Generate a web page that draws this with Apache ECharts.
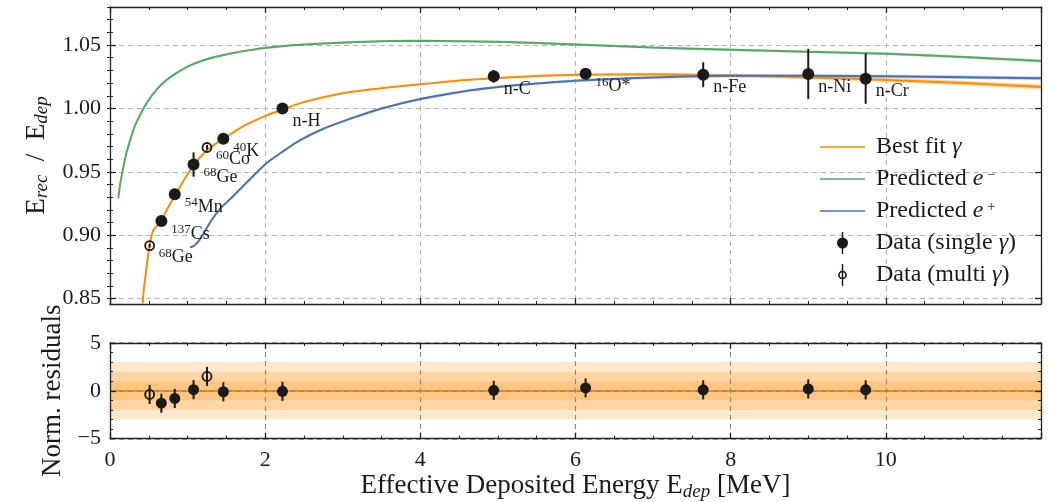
<!DOCTYPE html>
<html><head><meta charset="utf-8">
<script src="https://cdn.jsdelivr.net/npm/echarts@6/dist/echarts.min.js"></script>
<style>html,body{margin:0;padding:0;background:#fff}#c{width:1049px;height:502px}</style>
</head><body><div id="c"></div>
<script>
// ---------- data ----------
const fitE     = [0.42,0.44,0.47,0.50,0.53,0.56,0.60,0.662,0.75,0.835,0.95,1.077,1.25,1.46,1.75,2.0,2.22,2.5,3.0,3.5,4.0,4.5,5.0,5.5,6.0,7.0,8.0,9.0,10.0,11.0,12.0];
const fitRatio = [0.846,0.859,0.874,0.888,0.898,0.904,0.907,0.912,0.922,0.931,0.943,0.955,0.967,0.976,0.987,0.994,0.999,1.005,1.012,1.016,1.019,1.022,1.024,1.0255,1.0265,1.027,1.026,1.0245,1.0225,1.020,1.017];
const fitBand  = [0.0005,0.0005,0.0005,0.0005,0.0005,0.0005,0.0005,0.0005,0.0005,0.0005,0.0005,0.0005,0.0005,0.0005,0.0005,0.0005,0.0005,0.0005,0.0005,0.0005,0.0006,0.0006,0.0007,0.0008,0.0009,0.001,0.0012,0.0014,0.0016,0.0018,0.002];

const elecE     = [0.107,0.13,0.16,0.20,0.26,0.32,0.39,0.48,0.60,0.72,0.86,1.0,1.16,1.35,1.59,1.8,2.0,2.4,2.88,3.5,4.0,4.5,5.0,6.0,7.0,8.0,9.0,10.0,11.0,12.0];
const elecRatio = [0.929,0.940,0.950,0.962,0.975,0.986,0.995,1.005,1.0148,1.022,1.028,1.033,1.037,1.0405,1.0438,1.046,1.0477,1.050,1.0517,1.053,1.0533,1.053,1.0525,1.0505,1.048,1.0462,1.0447,1.0432,1.0405,1.0375];
const elecBand  = [0.0008,0.0008,0.0008,0.0008,0.0008,0.0008,0.0008,0.0008,0.0008,0.0008,0.0008,0.0008,0.0008,0.0008,0.0008,0.0008,0.0008,0.0008,0.0008,0.0008,0.0008,0.0008,0.0008,0.0009,0.0009,0.001,0.001,0.0011,0.0011,0.0012];

const posE     = [1.03,1.08,1.15,1.22,1.30,1.42,1.59,1.80,2.02,2.25,2.45,2.75,3.1,3.5,4.0,4.63,5.0,5.5,6.0,7.0,8.0,9.0,10.0,11.0,12.0];
const posRatio = [0.8905,0.8915,0.896,0.903,0.911,0.921,0.931,0.944,0.957,0.967,0.975,0.984,0.992,1.000,1.0075,1.0142,1.017,1.0197,1.0219,1.0245,1.0257,1.0258,1.0253,1.0246,1.0238];
const posBand  = [0.0008,0.0008,0.0008,0.0008,0.0008,0.0008,0.0008,0.0008,0.0008,0.0008,0.0008,0.0008,0.0009,0.0009,0.001,0.001,0.001,0.001,0.0011,0.0011,0.0012,0.0012,0.0013,0.0013,0.0014];

const singleNames    = ['137Cs','54Mn','68Ge','40K','n-H','n-C','16O*','n-Fe','n-Ni','n-Cr'];
const singleE        = [0.662,0.835,1.077,1.461,2.223,4.946,6.13,7.646,9.0,9.74];
const singleRatio    = [0.9113,0.9324,0.9558,0.9762,1.0000,1.0253,1.0274,1.0266,1.0272,1.0235];
const singleErr      = [0.0015,0.0015,0.0096,0.0015,0.001,0.005,0.002,0.0098,0.0198,0.0198];
const singleResid    = [-1.3,-0.8,0.12,-0.1,-0.05,0.05,0.3,0.1,0.2,0.1];
const singleResidErr = [1,1,1,1,1,1,1,1,1,1];

const multiNames    = ['68Ge','60Co'];
const multiE        = [0.511,1.25];
const multiRatio    = [0.8918,0.9692];
const multiErr      = [0.0015,0.002];
const multiResid    = [-0.38,1.5];
const multiResidErr = [1,1];

const ratioMajorTicks = [0.85,0.90,0.95,1.00,1.05];
const ratioMinorTicks = [0.85,0.86,0.87,0.88,0.89,0.90,0.91,0.92,0.93,0.94,0.95,0.96,0.97,0.98,0.99,1.00,1.01,1.02,1.03,1.04,1.05,1.06,1.07,1.08];
const sigmaLevels = [3,2,1];

// ---------- styling ----------
const FONT = '"Liberation Serif","DejaVu Serif",serif';
const INK = '#1a1a1a';
const ORANGE = '#ff8c00', GREEN = '#55a868', BLUE = '#4c72b0';
const FRAME = {color:'#222', width:1.3};

const pairs = (xs, ys) => xs.map((x,i)=>[x, ys[i]]);
const triples = (xs, ys, es) => xs.map((x,i)=>[x, ys[i], es[i]]);

function bandSeries(xs, ys, hw, color){
  return {type:'custom', xAxisIndex:0, yAxisIndex:0, silent:true, z:2, clip:true,
    encode:{x:0,y:1}, data:pairs(xs, ys),
    renderItem(params, api){
      if (params.dataIndex !== 0) return null;
      const pts = [];
      for (let i=0;i<xs.length;i++) pts.push(api.coord([xs[i], ys[i]+hw[i]]));
      for (let i=xs.length-1;i>=0;i--) pts.push(api.coord([xs[i], ys[i]-hw[i]]));
      return {type:'polygon', shape:{points:pts}, style:{fill:color}};
    }};
}

function errSeries(data, xi, yi, z){
  return {type:'custom', xAxisIndex:xi, yAxisIndex:yi, silent:true, z:z, clip:false,
    encode:{x:0,y:1}, data:data,
    renderItem(params, api){
      const x = api.value(0), y = api.value(1), e = api.value(2);
      const a = api.coord([x, y-e]), b = api.coord([x, y+e]);
      return {type:'line', shape:{x1:a[0],y1:a[1],x2:b[0],y2:b[1]}, style:{stroke:INK, lineWidth:2}};
    }};
}

const labelRich = {
  sup:{fontFamily:FONT, fontSize:13, lineHeight:12, verticalAlign:'top', color:INK},
  el:{fontFamily:FONT, fontSize:18, lineHeight:22, color:INK}
};
function isoText(name){
  const m = name.match(/^(\d+)(.*)$/);
  return m ? '{sup|'+m[1]+'}{el|'+m[2]+'}' : '{el|'+name+'}';
}

const legendText = {
  'Best fit γ':'{m|Best fit }{it|γ}',
  'Predicted e-':'{m|Predicted }{it|e}{sup| −}',
  'Predicted e+':'{m|Predicted }{it|e}{sup| +}',
  'Data (single γ)':'{m|Data (single }{it|γ}{m|)}',
  'Data (multi γ)':'{m|Data (multi }{it|γ}{m|)}'
};
const ICON_LINE = 'path://M0,0 L45,0 L45,1.6 L0,1.6 Z';
const ICON_FILLED = 'path://M5.2,0 L6.8,0 L6.8,24 L5.2,24 Z M0,12 A6,6 0 1 1 12,12 A6,6 0 1 1 0,12 Z';
const ICON_OPEN = 'path://M5.2,0 L6.8,0 L6.8,24 L5.2,24 Z M1.2,12 A4.8,4.8 0 1 1 10.8,12 A4.8,4.8 0 1 1 1.2,12 Z M3.0,12 A3.0,3.0 0 1 0 9.0,12 A3.0,3.0 0 1 0 3.0,12 Z';

const nameRich = {
  m:{fontFamily:FONT, fontSize:27, lineHeight:30, color:INK},
  s:{fontFamily:FONT, fontSize:19, fontStyle:'italic', lineHeight:22, verticalAlign:'bottom', color:INK}
};

function xAx(grid, pos, withLabels, split, extra){
  return Object.assign({
    gridIndex:grid, type:'value', min:0, max:12, interval:2, position:pos,
    axisLine:{show:true, onZero:false, lineStyle:FRAME},
    axisTick:{show:true, inside:true, length:6, lineStyle:FRAME},
    minorTick:{show:true, splitNumber:4, length:3, lineStyle:{color:'#222', width:1}},
    axisLabel:{show:withLabels, showMaxLabel:false, fontFamily:FONT, fontSize:22, color:INK, margin:11},
    splitLine:{show:split, lineStyle:{type:[5,4], color:'#b4b4b4', width:1.1}},
    minorSplitLine:{show:false}
  }, extra||{});
}

const option = {
  backgroundColor:'#fff',
  animation:false,
  grid:[
    {left:110, right:8, top:7, height:297},
    {left:110, right:8, top:343, height:99}
  ],
  xAxis:[
    xAx(0,'bottom',false,true),
    xAx(0,'top',false,false),
    xAx(1,'bottom',true,true,{z:6, splitLine:{show:true, lineStyle:{type:[5,4], color:'#8a8a8a', width:1.1}},
       name:'{m|Effective Deposited Energy E}{s|dep}{m| [MeV]}', nameLocation:'middle', nameGap:30,
       nameTextStyle:{rich:nameRich}}),
    xAx(1,'top',false,false,{z:6})
  ],
  yAxis:[
    {gridIndex:0, type:'value', min:0.8458, max:1.08, position:'left',
     axisLine:{show:true, onZero:false, lineStyle:FRAME},
     axisTick:{show:true, inside:true, length:6, customValues:ratioMajorTicks, lineStyle:FRAME},
     axisLabel:{show:true, customValues:ratioMajorTicks, formatter:v=>Number(v).toFixed(2), fontFamily:FONT, fontSize:22, color:INK, margin:9},
     splitLine:{show:true, lineStyle:{type:[5,4], color:'#b4b4b4', width:1.1}},
     name:'{m|E}{s|rec}{m|  /  E}{s|dep}', nameLocation:'middle', nameGap:46, nameTextStyle:{rich:nameRich}},
    {gridIndex:0, type:'value', min:0.8458, max:1.08, position:'left',
     axisLine:{show:false}, axisLabel:{show:false}, splitLine:{show:false},
     axisTick:{show:true, inside:true, length:3, customValues:ratioMinorTicks, lineStyle:{color:'#222', width:1}}},
    {gridIndex:0, type:'value', min:0.8458, max:1.08, position:'right',
     axisLine:{show:true, onZero:false, lineStyle:FRAME}, axisLabel:{show:false}, splitLine:{show:false},
     axisTick:{show:true, inside:true, length:6, customValues:ratioMajorTicks, lineStyle:FRAME}},
    {gridIndex:0, type:'value', min:0.8458, max:1.08, position:'right',
     axisLine:{show:false}, axisLabel:{show:false}, splitLine:{show:false},
     axisTick:{show:true, inside:true, length:3, customValues:ratioMinorTicks, lineStyle:{color:'#222', width:1}}},
    {gridIndex:1, type:'value', min:-5, max:5, interval:5, position:'left', z:6,
     axisLine:{show:true, onZero:false, lineStyle:FRAME},
     axisTick:{show:true, inside:true, length:6, lineStyle:FRAME},
     minorTick:{show:true, splitNumber:5, length:3, lineStyle:{color:'#222', width:1}},
     axisLabel:{show:true, formatter:v=> v<0 ? '\u2212'+Math.abs(v) : String(v), fontFamily:FONT, fontSize:22, color:INK, margin:9},
     splitLine:{show:true, lineStyle:{type:[5,4], color:'#8a8a8a', width:1.6}},
     name:'{m|Norm. residuals}', nameLocation:'middle', nameGap:41, nameTextStyle:{rich:nameRich}},
    {gridIndex:1, type:'value', min:-5, max:5, interval:5, position:'right', z:6,
     axisLine:{show:true, onZero:false, lineStyle:FRAME},
     axisTick:{show:true, inside:true, length:6, lineStyle:FRAME},
     minorTick:{show:true, splitNumber:5, length:3, lineStyle:{color:'#222', width:1}},
     axisLabel:{show:false}, splitLine:{show:false}}
  ],
  legend:{
    orient:'vertical', left:815, top:130, itemWidth:45, itemHeight:22, itemGap:8,
    selectedMode:false,
    data:[
      {name:'Best fit γ', icon:ICON_LINE},{name:'Predicted e-', icon:ICON_LINE},{name:'Predicted e+', icon:ICON_LINE},
      {name:'Data (single γ)', icon:ICON_FILLED, itemStyle:{color:INK, borderWidth:0}},
      {name:'Data (multi γ)', icon:ICON_OPEN, itemStyle:{color:INK, borderWidth:0}}
    ],
    formatter:n=>legendText[n],
    textStyle:{padding:[0,0,0,6], rich:{
      m:{fontFamily:FONT, fontSize:24, lineHeight:22, color:INK},
      it:{fontFamily:FONT, fontSize:24, lineHeight:22, fontStyle:'italic', color:INK},
      sup:{fontFamily:FONT, fontSize:15, lineHeight:12, verticalAlign:'top', color:INK}
    }}
  },
  series:[
    bandSeries(fitE, fitRatio, fitBand, 'rgba(255,140,0,0.35)'),
    bandSeries(elecE, elecRatio, elecBand, 'rgba(85,168,104,0.35)'),
    bandSeries(posE, posRatio, posBand, 'rgba(76,114,176,0.35)'),
    {type:'line', name:'Best fit γ', xAxisIndex:0, yAxisIndex:0, symbol:'none', smooth:0.3, z:3,
     lineStyle:{color:ORANGE, width:2}, itemStyle:{color:ORANGE}, data:pairs(fitE, fitRatio)},
    {type:'line', name:'Predicted e-', xAxisIndex:0, yAxisIndex:0, symbol:'none', smooth:0.3, z:3,
     lineStyle:{color:GREEN, width:2}, itemStyle:{color:GREEN}, data:pairs(elecE, elecRatio)},
    {type:'line', name:'Predicted e+', xAxisIndex:0, yAxisIndex:0, symbol:'none', smooth:0.3, z:3,
     lineStyle:{color:BLUE, width:2}, itemStyle:{color:BLUE}, data:pairs(posE, posRatio)},
    errSeries(triples(singleE, singleRatio, singleErr), 0, 0, 8),
    errSeries(triples(multiE, multiRatio, multiErr), 0, 0, 8),
    {type:'scatter', name:'Data (single γ)', xAxisIndex:0, yAxisIndex:0, symbol:'circle', symbolSize:12, z:10,
     itemStyle:{color:INK, opacity:1}, data:pairs(singleE, singleRatio),
     label:{show:true, position:[16,19], align:'left', verticalAlign:'middle',
       formatter:p=>isoText(singleNames[p.dataIndex]), rich:labelRich}},
    {type:'scatter', name:'Data (multi γ)', xAxisIndex:0, yAxisIndex:0, symbol:'circle', symbolSize:9, z:10,
     itemStyle:{color:'rgba(0,0,0,0)', borderColor:INK, borderWidth:1.8, opacity:1}, data:pairs(multiE, multiRatio),
     label:{show:true, position:[14.5,17.5], align:'left', verticalAlign:'middle',
       formatter:p=>isoText(multiNames[p.dataIndex]), rich:labelRich}},
    // residual panel
    {type:'scatter', xAxisIndex:2, yAxisIndex:4, symbolSize:0, silent:true, data:[],
     markArea:{silent:true, itemStyle:{color:'rgba(255,140,0,0.2)'},
       data: sigmaLevels.map(s=>[{yAxis:-s},{yAxis:s}])},
     markLine:{silent:true, symbol:'none', label:{show:false},
       lineStyle:{color:ORANGE, type:'solid', width:2.2}, data:[{yAxis:0}]}},
    errSeries(triples(singleE, singleResid, singleResidErr), 2, 4, 9),
    errSeries(triples(multiE, multiResid, multiResidErr), 2, 4, 9),
    {type:'scatter', xAxisIndex:2, yAxisIndex:4, symbol:'circle', symbolSize:11, z:10,
     itemStyle:{color:INK, opacity:1}, data:pairs(singleE, singleResid)},
    {type:'scatter', xAxisIndex:2, yAxisIndex:4, symbol:'circle', symbolSize:9, z:10,
     itemStyle:{color:'rgba(0,0,0,0)', borderColor:INK, borderWidth:1.8, opacity:1}, data:pairs(multiE, multiResid)}
  ]
};
const chart = echarts.init(document.getElementById('c'), null, {renderer:'canvas'});
chart.setOption(option);
</script></body></html>
